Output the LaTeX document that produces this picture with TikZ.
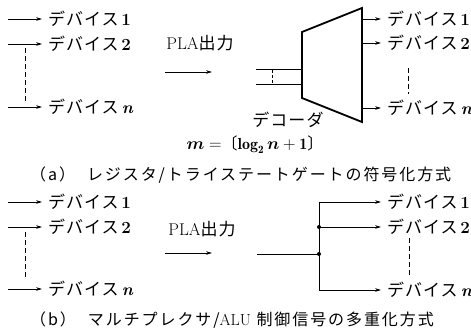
\documentclass[tikz,border=0pt]{standalone}
\usepackage{fontspec}
\usepackage{amsmath}
\newfontfamily\jp{Noto Sans CJK JP}[LetterSpace=6]
\newfontfamily\jpcap{Noto Sans CJK JP}[LetterSpace=12]
\usetikzlibrary{arrows.meta}
\newcommand{\dev}[1]{{\jp デバイス}\hspace{2.5pt}{\bfseries #1}}
\newcommand{\devn}{{\jp デバイス}\hspace{3pt}{\bfseries\itshape n}}
\begin{document}
\begin{tikzpicture}[x=1pt,y=-1pt,
  arr/.style={-{Stealth[length=6pt,width=3.6pt]}, line width=0.8pt},
  ln/.style={line width=0.8pt},
  dsh/.style={line width=0.8pt, dash pattern=on 5pt off 3pt},
  lbl/.style={anchor=west, inner sep=6pt, font=\fontsize{17}{17}\selectfont},
  txt/.style={inner sep=0pt, font=\fontsize{17}{17}\selectfont},
  frm/.style={inner sep=0pt, font=\fontsize{16}{16}\selectfont},
  captxt/.style={anchor=west, inner sep=0pt, font=\fontsize{16}{16}\selectfont},
  dot/.style={circle, fill, inner sep=0pt, minimum size=4pt}]
\useasboundingbox (0,0) rectangle (471,331);
% ---------- (a) ----------
\coordinate (la1) at (8,19);
\coordinate (la2) at (8,44);
\coordinate (lan) at (8,107);
\node[lbl] (da1) at (42,19) {\dev{1}};
\node[lbl] (da2) at (42,44) {\dev{2}};
\node[lbl] (dan) at (42,107) {\devn};
\draw[arr] (la1) -- (da1.west);
\draw[arr] (la2) -- (da2.west);
\draw[arr] (lan) -- (dan.west);
\coordinate (lda) at (25,48);
\coordinate (ldb) at (25,103);
\draw[dsh] (lda) -- (ldb);
\node[txt] (plaa) at (200,43) {PLA{\jp 出力}};
\coordinate (maa) at (165,72);
\coordinate (mab) at (212,72);
\draw[arr] (maa) -- (mab);
% decoder
\coordinate (d1) at (302,32);
\coordinate (d2) at (362,8);
\coordinate (d3) at (362,122);
\coordinate (d4) at (302,98);
\draw[line width=1.8pt, line join=miter] (d1) -- (d2) -- (d3) -- (d4) -- cycle;
\coordinate (ia1) at (256,69);
\coordinate (ib1) at (302,69);
\coordinate (ia2) at (256,84);
\coordinate (ib2) at (302,84);
\draw[ln] (ia1) -- (ib1);
\draw[ln] (ia2) -- (ib2);
\coordinate (ida) at (272,70);
\coordinate (idb) at (272,84);
\draw[dsh, dash pattern=on 3pt off 2pt] (ida) -- (idb);
\node[lbl] (ra1) at (381,19) {\dev{1}};
\node[lbl] (ra2) at (381,43) {\dev{2}};
\node[lbl] (ran) at (381,108) {\devn};
\coordinate (oa1) at (362,19);
\coordinate (oa2) at (362,43);
\coordinate (oan) at (362,108);
\draw[arr] (oa1) -- (ra1.west);
\draw[arr] (oa2) -- (ra2.west);
\draw[arr] (oan) -- (ran.west);
\coordinate (rda) at (408,68);
\coordinate (rdb) at (408,94);
\draw[dsh] (rda) -- (rdb);
\node[txt] (dec) at (288,120) {\jp デコーダ};
\node[frm] (form) at (255,145) {$\boldsymbol{m}=${\jp 〔}$\mathbf{log}_{\mathbf{2}}\,\boldsymbol{n}+\mathbf{1}${\jp 〕}};
\node[captxt] (capa) at (30,175) {\jpcap （a）\hspace{12pt}レジスタ/トライステートゲートの符号化方式};
% ---------- (b) ----------
\coordinate (lb1) at (8,202);
\coordinate (lb2) at (8,227);
\coordinate (lbn) at (8,289);
\node[lbl] (db1) at (42,202) {\dev{1}};
\node[lbl] (db2) at (42,227) {\dev{2}};
\node[lbl] (dbn) at (42,289) {\devn};
\draw[arr] (lb1) -- (db1.west);
\draw[arr] (lb2) -- (db2.west);
\draw[arr] (lbn) -- (dbn.west);
\coordinate (ldc) at (25,232);
\coordinate (ldd) at (25,279);
\draw[dsh] (ldc) -- (ldd);
\node[txt] (plab) at (202,229) {PLA{\jp 出力}};
\coordinate (mba) at (165,253);
\coordinate (mbb) at (212,253);
\draw[arr] (mba) -- (mbb);
\coordinate (inb) at (257,254);
\node[dot] (j1) at (319,254) {};
\node[dot] (j2) at (319,227) {};
\coordinate (jt) at (319,202);
\coordinate (jb) at (319,290);
\draw[ln] (inb) -- (j1.center);
\draw[ln] (jt) -- (jb);
\node[lbl] (rb1) at (381,202) {\dev{1}};
\node[lbl] (rb2) at (381,227) {\dev{2}};
\node[lbl] (rbn) at (381,290) {\devn};
\draw[arr] (jt) -- (rb1.west);
\draw[arr] (j2.center) -- (rb2.west);
\draw[arr] (jb) -- (rbn.west);
\coordinate (rdc) at (409,238);
\coordinate (rdd) at (409,276);
\draw[dsh] (rdc) -- (rdd);
\node[captxt] (capb) at (30,320) {\jpcap （b）\hspace{12pt}マルチプレクサ/{\rmfamily ALU}\ 制御信号の多重化方式};
\end{tikzpicture}
\end{document}
